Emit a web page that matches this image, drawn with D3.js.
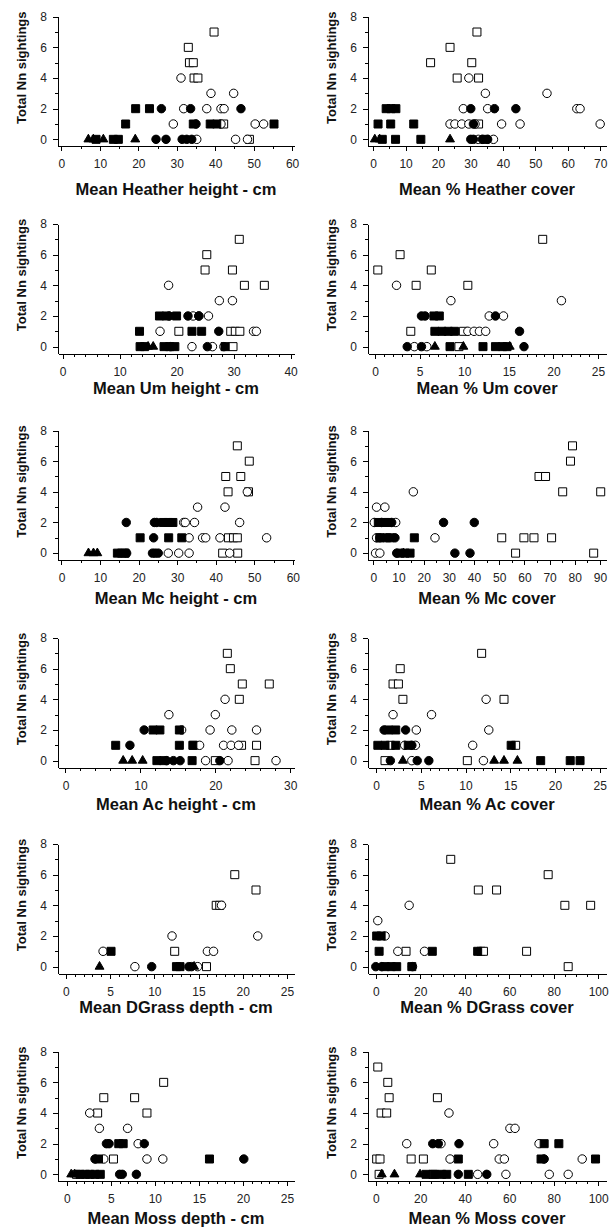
<!DOCTYPE html>
<meta charset="utf-8">
<head>
<style type='text/css'>
  body {
    margin: 0;
    background: #fff;
  }
  .axis path, .axis line {
    stroke: #000;
    shape-rendering: crispEdges;
  }
  .axis .tick text {
    font-family: 'Liberation Sans', Arial, sans-serif;
    font-size: 12px;
    fill: #222;
  }
  .xtitle, .ytitle {
    font-family: 'Liberation Sans', Arial, sans-serif;
    font-weight: bold;
    fill: #111;
  }
  .xtitle { font-size: 16.5px; }
  .ytitle { font-size: 13px; }
</style>
</head>
<body>
<svg id="chart" width="610" height="1227"></svg>
<script src="https://d3js.org/d3.v7.min.js"></script>
<script>
// marker codes: os = open square, oc = open circle, fc = filled circle,
// fs = filled square, ft = filled triangle.  Rows are [x, sightings, code]
var heatherHeight = [
  [39.7,7,"os"],[33.0,6,"os"],[33.3,5,"os"],[34.3,5,"os"],[34.5,4,"os"],[35.5,4,"os"],[42.2,1,"os"],[48.9,0,"os"],
  [31.1,4,"oc"],[38.9,3,"oc"],[44.8,3,"oc"],[31.8,2,"oc"],[37.8,2,"oc"],[41.5,2,"oc"],[42.3,2,"oc"],[29.1,1,"oc"],
  [41.5,1,"oc"],[50.4,1,"oc"],[52.6,1,"oc"],[35.2,0,"oc"],[45.3,0,"oc"],[48.4,0,"oc"],
  [26.0,2,"fc"],[33.6,2,"fc"],[46.7,2,"fc"],[35.0,1,"fc"],[24.6,0,"fc"],[27.2,0,"fc"],[31.4,0,"fc"],[32.6,0,"fc"],[33.9,0,"fc"],
  [19.3,2,"fs"],[22.9,2,"fs"],[16.7,1,"fs"],[34.3,1,"fs"],[38.7,1,"fs"],[40.4,1,"fs"],[55.3,1,"fs"],[9.0,0,"fs"],[13.5,0,"fs"],[14.8,0,"fs"],
  [7.0,0,"ft"],[8.3,0,"ft"],[10.9,0,"ft"],[19.2,0,"ft"]
];
var heatherCover = [
  [32.0,7,"os"],[23.7,6,"os"],[17.7,5,"os"],[30.4,5,"os"],[25.9,4,"os"],[32.5,4,"os"],[32.5,1,"os"],
  [29.5,4,"oc"],[34.6,3,"oc"],[53.6,3,"oc"],[27.8,2,"oc"],[35.3,2,"oc"],[62.8,2,"oc"],[63.8,2,"oc"],[23.7,1,"oc"],
  [25.2,1,"oc"],[27.3,1,"oc"],[29.5,1,"oc"],[31.4,1,"oc"],[39.6,1,"oc"],[45.3,1,"oc"],[70.0,1,"oc"],[32.4,0,"oc"],[37.1,0,"oc"],
  [30.1,2,"fc"],[37.4,2,"fc"],[44.0,2,"fc"],[30.9,1,"fc"],[30.1,0,"fc"],[30.9,0,"fc"],[33.7,0,"fc"],[35.3,0,"fc"],
  [4.0,2,"fs"],[5.5,2,"fs"],[7.0,2,"fs"],[1.5,1,"fs"],[5.4,1,"fs"],[12.5,1,"fs"],[2.8,0,"fs"],[6.9,0,"fs"],[14.7,0,"fs"],[34.5,0,"fs"],
  [0.5,0,"ft"],[2.0,0,"ft"],[23.7,0,"ft"]
];
var umHeight = [
  [31.0,7,"os"],[25.3,6,"os"],[25.0,5,"os"],[29.8,5,"os"],[31.9,4,"os"],[35.4,4,"os"],[20.4,1,"os"],[29.5,1,"os"],[30.3,1,"os"],[31.1,1,"os"],[29.9,0,"os"],
  [18.6,4,"oc"],[27.5,3,"oc"],[29.8,3,"oc"],[22.9,2,"oc"],[23.9,2,"oc"],[25.6,2,"oc"],[17.1,1,"oc"],[33.5,1,"oc"],[34.0,1,"oc"],[22.7,0,"oc"],[26.3,0,"oc"],[28.3,0,"oc"],
  [18.7,2,"fc"],[22.0,2,"fc"],[23.9,2,"fc"],[27.4,1,"fc"],[25.4,0,"fc"],[18.9,0,"fc"],
  [17.0,2,"fs"],[18.2,2,"fs"],[20.0,2,"fs"],[13.5,1,"fs"],[22.7,1,"fs"],[24.4,1,"fs"],[13.6,0,"fs"],[14.4,0,"fs"],[17.8,0,"fs"],[18.8,0,"fs"],[19.7,0,"fs"],[28.5,0,"fs"],
  [15.0,0,"ft"],[15.9,0,"ft"]
];
var umCover = [
  [18.8,7,"os"],[2.8,6,"os"],[0.3,5,"os"],[6.3,5,"os"],[4.6,4,"os"],[10.4,4,"os"],[4.0,1,"os"],[9.9,1,"os"],[9.4,0,"os"],
  [2.4,4,"oc"],[8.5,3,"oc"],[20.9,3,"oc"],[12.8,2,"oc"],[14.4,2,"oc"],[10.4,1,"oc"],[11.1,1,"oc"],[11.7,1,"oc"],[12.4,1,"oc"],[4.4,0,"oc"],[5.8,0,"oc"],
  [5.2,2,"fc"],[5.6,2,"fc"],[13.5,2,"fc"],[16.2,1,"fc"],[3.6,0,"fc"],[5.2,0,"fc"],[16.7,0,"fc"],
  [6.6,2,"fs"],[7.2,2,"fs"],[6.7,1,"fs"],[7.5,1,"fs"],[8.2,1,"fs"],[8.9,1,"fs"],[8.4,0,"fs"],[12.1,0,"fs"],[13.5,0,"fs"],[14.3,0,"fs"],[14.8,0,"fs"],
  [6.7,0,"ft"],[9.9,0,"ft"],[15.1,0,"ft"]
];
var mcHeight = [
  [45.6,7,"os"],[48.7,6,"os"],[42.6,5,"os"],[46.5,5,"os"],[43.2,4,"os"],[48.5,4,"os"],[43.3,1,"os"],[44.6,1,"os"],[45.6,1,"os"],[41.8,0,"os"],[45.7,0,"os"],
  [48.2,4,"oc"],[35.3,3,"oc"],[42.4,3,"oc"],[31.7,2,"oc"],[32.1,2,"oc"],[34.5,2,"oc"],[46.2,2,"oc"],[33.1,1,"oc"],[36.6,1,"oc"],[37.4,1,"oc"],
  [41.1,1,"oc"],[53.2,1,"oc"],[27.7,0,"oc"],[30.4,0,"oc"],[33.1,0,"oc"],[43.6,0,"oc"],
  [16.8,2,"fc"],[24.1,2,"fc"],[24.7,2,"fc"],[23.9,1,"fc"],[23.6,0,"fc"],[24.3,0,"fc"],[25.1,0,"fc"],[16.9,0,"fc"],
  [26.4,2,"fs"],[27.7,2,"fs"],[28.9,2,"fs"],[20.4,1,"fs"],[27.8,1,"fs"],[31.2,1,"fs"],[14.5,0,"fs"],[15.6,0,"fs"],[16.5,0,"fs"],
  [7.0,0,"ft"],[8.3,0,"ft"],[9.3,0,"ft"]
];
var mcCover = [
  [79.1,7,"os"],[78.3,6,"os"],[65.8,5,"os"],[68.4,5,"os"],[75.2,4,"os"],[90.3,4,"os"],[51.0,1,"os"],[59.8,1,"os"],[63.8,1,"os"],[70.8,1,"os"],[56.5,0,"os"],[87.5,0,"os"],
  [15.9,4,"oc"],[1.3,3,"oc"],[4.6,3,"oc"],[0.4,2,"oc"],[8.9,2,"oc"],[1.3,1,"oc"],[24.5,1,"oc"],[0.9,0,"oc"],[2.6,0,"oc"],
  [27.9,2,"fc"],[40.1,2,"fc"],[3.3,2,"fc"],[7.3,2,"fc"],[2.6,1,"fc"],[8.6,1,"fc"],[32.4,0,"fc"],[38.4,0,"fc"],[9.3,0,"fc"],
  [2.0,2,"fs"],[4.6,2,"fs"],[5.8,2,"fs"],[2.6,1,"fs"],[5.3,1,"fs"],[6.6,1,"fs"],[16.3,1,"fs"],[10.6,0,"fs"],[12.6,0,"fs"],[14.6,0,"fs"],
  [12.0,0,"ft"]
];
var acHeight = [
  [21.6,7,"os"],[22.0,6,"os"],[23.6,5,"os"],[27.2,5,"os"],[23.2,4,"os"],[17.1,1,"os"],[23.5,1,"os"],[25.5,1,"os"],[20.0,0,"os"],[25.3,0,"os"],
  [21.3,4,"oc"],[13.8,3,"oc"],[20.0,3,"oc"],[15.5,2,"oc"],[19.3,2,"oc"],[22.2,2,"oc"],[25.5,2,"oc"],[17.9,1,"oc"],[21.1,1,"oc"],[22.1,1,"oc"],
  [23.1,1,"oc"],[18.7,0,"oc"],[21.7,0,"oc"],[28.1,0,"oc"],
  [10.5,2,"fc"],[8.6,1,"fc"],[13.5,0,"fc"],[14.4,0,"fc"],[15.3,0,"fc"],[20.6,0,"fc"],
  [11.7,2,"fs"],[12.6,2,"fs"],[15.2,2,"fs"],[6.7,1,"fs"],[15.2,1,"fs"],[17.0,1,"fs"],[12.2,0,"fs"],[13.1,0,"fs"],[16.9,0,"fs"],
  [7.7,0,"ft"],[8.9,0,"ft"],[10.3,0,"ft"]
];
var acCover = [
  [11.8,7,"os"],[2.7,6,"os"],[1.9,5,"os"],[2.5,5,"os"],[3.0,4,"os"],[14.3,4,"os"],[15.6,1,"os"],[1.6,1,"os"],[1.0,0,"os"],[10.2,0,"os"],
  [12.3,4,"oc"],[1.9,3,"oc"],[6.2,3,"oc"],[4.5,2,"oc"],[12.6,2,"oc"],[4.4,1,"oc"],[10.8,1,"oc"],[3.2,1,"oc"],[12.0,0,"oc"],[4.0,0,"oc"],
  [0.9,2,"fc"],[3.3,2,"fc"],[4.0,1,"fc"],[1.6,0,"fc"],[4.6,0,"fc"],[5.9,0,"fc"],
  [1.4,2,"fs"],[2.2,2,"fs"],[0.2,1,"fs"],[1.0,1,"fs"],[2.2,1,"fs"],[3.6,1,"fs"],[15.1,1,"fs"],[18.4,0,"fs"],[21.7,0,"fs"],[22.8,0,"fs"],
  [3.0,0,"ft"],[13.2,0,"ft"],[14.3,0,"ft"],[15.8,0,"ft"]
];
var dgrassDepth = [
  [19.1,6,"os"],[21.5,5,"os"],[17.0,4,"os"],[17.4,4,"os"],[12.3,1,"os"],[15.9,0,"os"],
  [17.6,4,"oc"],[12.0,2,"oc"],[21.7,2,"oc"],[4.2,1,"oc"],[16.0,1,"oc"],[16.7,1,"oc"],[7.8,0,"oc"],[14.9,0,"oc"],
  [9.7,0,"fc"],[13.9,0,"fc"],[14.2,0,"fc"],
  [5.1,1,"fs"],[12.5,0,"fs"],[12.9,0,"fs"],
  [3.8,0,"ft"],[14.5,0,"ft"]
];
var dgrassCover = [
  [33.7,7,"os"],[77.5,6,"os"],[46.1,5,"os"],[54.3,5,"os"],[85.0,4,"os"],[96.6,4,"os"],[13.6,1,"os"],[47.3,1,"os"],[48.4,1,"os"],[67.8,1,"os"],[86.5,0,"os"],
  [15.0,4,"oc"],[0.9,3,"oc"],[4.2,2,"oc"],[9.9,1,"oc"],[21.9,1,"oc"],
  [0.0,0,"fc"],[2.7,0,"fc"],[16.5,0,"fc"],
  [0.4,2,"fs"],[2.4,2,"fs"],[1.5,1,"fs"],[25.4,1,"fs"],[45.8,1,"fs"],[4.2,0,"fs"],[6.9,0,"fs"],[9.4,0,"fs"],[16.2,0,"fs"]
];
var mossDepth = [
  [11.0,6,"os"],[4.2,5,"os"],[7.7,5,"os"],[3.5,4,"os"],[9.1,4,"os"],[5.3,1,"os"],[1.1,0,"os"],
  [2.6,4,"oc"],[3.7,3,"oc"],[6.9,3,"oc"],[8.1,2,"oc"],[4.2,1,"oc"],[9.1,1,"oc"],[10.9,1,"oc"],
  [4.5,2,"fc"],[4.8,2,"fc"],[8.8,2,"fc"],[3.2,1,"fc"],[20.1,1,"fc"],[6.0,0,"fc"],[6.3,0,"fc"],[7.9,0,"fc"],
  [5.9,2,"fs"],[6.4,2,"fs"],[3.6,1,"fs"],[16.2,1,"fs"],[1.5,0,"fs"],[2.1,0,"fs"],[2.6,0,"fs"],[3.2,0,"fs"],[3.8,0,"fs"],
  [0.5,0,"ft"],[0.9,0,"ft"]
];
var mossCover = [
  [0.9,7,"os"],[5.4,6,"os"],[6.0,5,"os"],[27.7,5,"os"],[2.4,4,"os"],[4.9,4,"os"],[0.4,1,"os"],[1.9,1,"os"],[15.9,1,"os"],[21.4,1,"os"],[1.5,0,"os"],[25.7,0,"os"],
  [32.9,4,"oc"],[60.3,3,"oc"],[62.6,3,"oc"],[13.9,2,"oc"],[29.3,2,"oc"],[53.0,2,"oc"],[73.4,2,"oc"],[33.4,1,"oc"],[55.5,1,"oc"],[57.8,1,"oc"],
  [92.8,1,"oc"],[45.8,0,"oc"],[58.5,0,"oc"],[78.0,0,"oc"],[86.5,0,"oc"],
  [25.6,2,"fc"],[28.1,2,"fc"],[37.4,2,"fc"],[75.7,1,"fc"],[37.1,0,"fc"],[49.9,0,"fc"],
  [75.7,2,"fs"],[82.3,2,"fs"],[37.1,1,"fs"],[74.3,1,"fs"],[98.8,1,"fs"],[22.6,0,"fs"],[26.3,0,"fs"],[29.6,0,"fs"],[31.9,0,"fs"],[41.6,0,"fs"],
  [2.7,0,"ft"],[8.4,0,"ft"],[19.9,0,"ft"]
];

var xTitles = ["Mean Heather height - cm", "Mean % Heather cover", "Mean Um height - cm", "Mean % Um cover",
               "Mean Mc height - cm", "Mean % Mc cover", "Mean Ac height - cm", "Mean % Ac cover",
               "Mean DGrass depth - cm", "Mean % DGrass cover", "Mean Moss depth - cm", "Mean % Moss cover"];
var xMax   = [60, 70, 40, 25, 60, 90, 30, 25, 25, 100, 25, 100];
var xStep  = [10, 10, 10, 5, 10, 10, 10, 5, 5, 20, 5, 20];
var xMinor = [5, 5, 2, 1, 5, 5, 2, 1, 1, 5, 1, 5];
var yMajor = [0, 2, 4, 6, 8];
var yMinor = [1, 3, 5, 7];
var yTitle = "Total Nn sightings";

// layout
var xLo = [-0.9, -1.6, -0.8, -0.8, -0.9, -2.1, -1.0, -0.9, -0.9, -3.5, -1.0, -3.5];
var xHi = [60.5, 71.8, 40.6, 25.9, 60.3, 92.4, 30.5, 25.7, 25.8, 103.5, 25.8, 103.5];
var colX = [[58, 294], [368, 606]];
var rowTop = [16.7, 224, 430.5, 638, 844, 1051.7];
var titleDy = [48.6, 40.3, 44, 42.5, 39.7, 42.6];
var unit = 15.33, yBottom = -0.45;

var sets = [heatherHeight, heatherCover, umHeight, umCover, mcHeight, mcCover,
            acHeight, acCover, dgrassDepth, dgrassCover, mossDepth, mossCover];

var order = {os: 0, oc: 1, fc: 2, fs: 3, ft: 4};
var symbolFor = {
  os: d3.symbol().type(d3.symbolSquare).size(64),
  fs: d3.symbol().type(d3.symbolSquare).size(64),
  oc: d3.symbol().type(d3.symbolCircle).size(56),
  fc: d3.symbol().type(d3.symbolCircle).size(56),
  ft: d3.symbol().type(d3.symbolTriangle).size(34)
};

var svg = d3.select("#chart");

sets.forEach(function(data, i) {
  var row = Math.floor(i / 2), col = i % 2;

  var x = d3.scaleLinear().domain([xLo[i], xHi[i]]).range(colX[col]);
  var y = d3.scaleLinear().domain([yBottom, 8])
      .range([rowTop[row] + (8 - yBottom) * unit, rowTop[row]]);

  var g = svg.append("g");
  var baseY = y(yBottom);

  var majors = d3.range(0, xMax[i] + 0.001, xStep[i]);
  var minors = d3.range(0, xMax[i] + 0.001, xMinor[i])
      .filter(function(v) { return majors.indexOf(v) < 0; });

  // x axis
  g.append("g")
      .attr("class", "axis")
      .attr("transform", "translate(0," + baseY + ")")
      .call(d3.axisBottom(x).tickValues(majors).tickSize(5).tickSizeOuter(0).tickPadding(8.5));
  g.append("g")
      .attr("class", "axis")
      .attr("transform", "translate(0," + baseY + ")")
      .call(d3.axisBottom(x).tickValues(minors).tickSize(3).tickFormat(""))
    .select(".domain").remove();

  // y axis
  var ax = colX[col][0];
  g.append("g")
      .attr("class", "axis")
      .attr("transform", "translate(" + ax + ",0)")
      .call(d3.axisLeft(y).tickValues(yMajor).tickSize(5).tickSizeOuter(0).tickPadding(6));
  g.append("g")
      .attr("class", "axis")
      .attr("transform", "translate(" + ax + ",0)")
      .call(d3.axisLeft(y).tickValues(yMinor).tickSize(3).tickFormat(""))
    .select(".domain").remove();

  // titles
  g.append("text")
      .attr("class", "xtitle")
      .attr("x", (colX[col][0] + colX[col][1]) / 2)
      .attr("y", baseY + titleDy[row])
      .attr("text-anchor", "middle")
      .text(xTitles[i]);

  g.append("text")
      .attr("class", "ytitle")
      .attr("transform", "translate(" + (ax - 37) + "," + (rowTop[row] + 51) + ") rotate(-90)")
      .attr("text-anchor", "middle")
      .attr("dy", "0.35em")
      .text(yTitle);

  // markers
  var pts = data.slice().sort(function(a, b) { return order[a[2]] - order[b[2]]; });
  g.append("g")
    .selectAll("path")
    .data(pts)
    .enter().append("path")
      .attr("transform", function(d) { return "translate(" + x(d[0]) + "," + y(d[1]) + ")"; })
      .attr("d", function(d) { return symbolFor[d[2]](); })
      .attr("fill", function(d) { return d[2].charAt(0) === "o" ? "#fff" : "#000"; })
      .attr("stroke", "#000")
      .attr("stroke-width", 1);
});
</script>
</body>
